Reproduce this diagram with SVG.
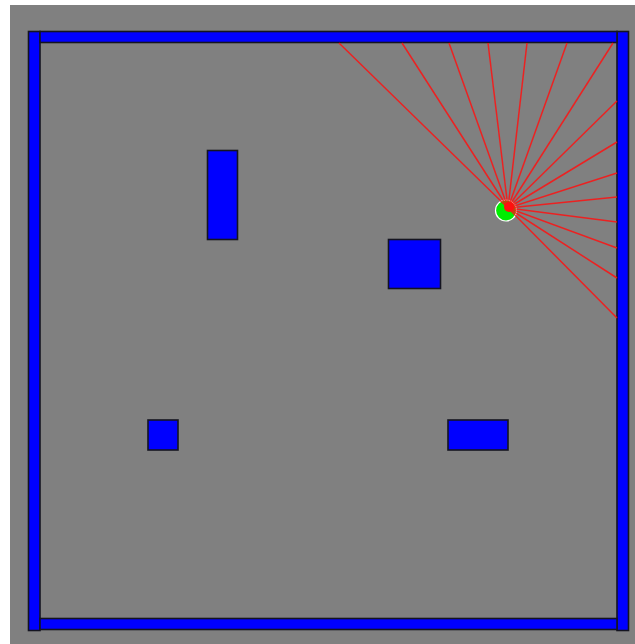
<svg xmlns="http://www.w3.org/2000/svg" width="635" height="644" viewBox="0 0 635 644">
<style>
.wall{fill:#0000ff;stroke:#141420;stroke-width:1.6}
.ray{stroke:#ff1010;stroke-width:1.5;stroke-opacity:0.85;fill:none}
</style>
<rect x="0" y="0" width="635" height="644" fill="#ffffff"/>
<rect x="10" y="5" width="625" height="639" fill="#808080"/>
<g id="walls">
<rect id="wall-left" class="wall" x="28.5" y="31.5" width="11.5" height="599"/>
<rect id="wall-right" class="wall" x="617" y="31.5" width="11.5" height="599"/>
<rect id="wall-top" class="wall" x="40" y="31.5" width="577" height="11"/>
<rect id="wall-bottom" class="wall" x="40" y="618.5" width="577" height="11"/>
</g>
<g id="obstacles">
<rect id="obs1" class="wall" x="207.5" y="150.5" width="30" height="89"/>
<rect id="obs2" class="wall" x="388.5" y="239.5" width="52" height="49"/>
<rect id="obs3" class="wall" x="148" y="420" width="30" height="30"/>
<rect id="obs4" class="wall" x="448" y="420" width="60" height="30"/>
</g>
<g id="robot">
<circle cx="506" cy="210.5" r="10.5" fill="#00ee00" stroke="#ffffff" stroke-width="1.2"/>
</g>
<g id="rays">
<line class="ray" x1="508" y1="208" x2="339" y2="43"/>
<line class="ray" x1="508" y1="208" x2="402" y2="43"/>
<line class="ray" x1="508" y1="208" x2="449" y2="43"/>
<line class="ray" x1="508" y1="208" x2="488" y2="43"/>
<line class="ray" x1="508" y1="208" x2="527" y2="43"/>
<line class="ray" x1="508" y1="208" x2="567" y2="43"/>
<line class="ray" x1="508" y1="208" x2="613" y2="43"/>
<line class="ray" x1="508" y1="208" x2="617" y2="101"/>
<line class="ray" x1="508" y1="208" x2="617" y2="142"/>
<line class="ray" x1="508" y1="208" x2="617" y2="173"/>
<line class="ray" x1="508" y1="208" x2="617" y2="197"/>
<line class="ray" x1="508" y1="208" x2="617" y2="222"/>
<line class="ray" x1="508" y1="208" x2="617" y2="248"/>
<line class="ray" x1="508" y1="208" x2="617" y2="278"/>
<line class="ray" x1="508" y1="208" x2="617" y2="318"/>
</g>
<circle id="heading" cx="509" cy="207" r="5" fill="#ff1010"/>
</svg>
